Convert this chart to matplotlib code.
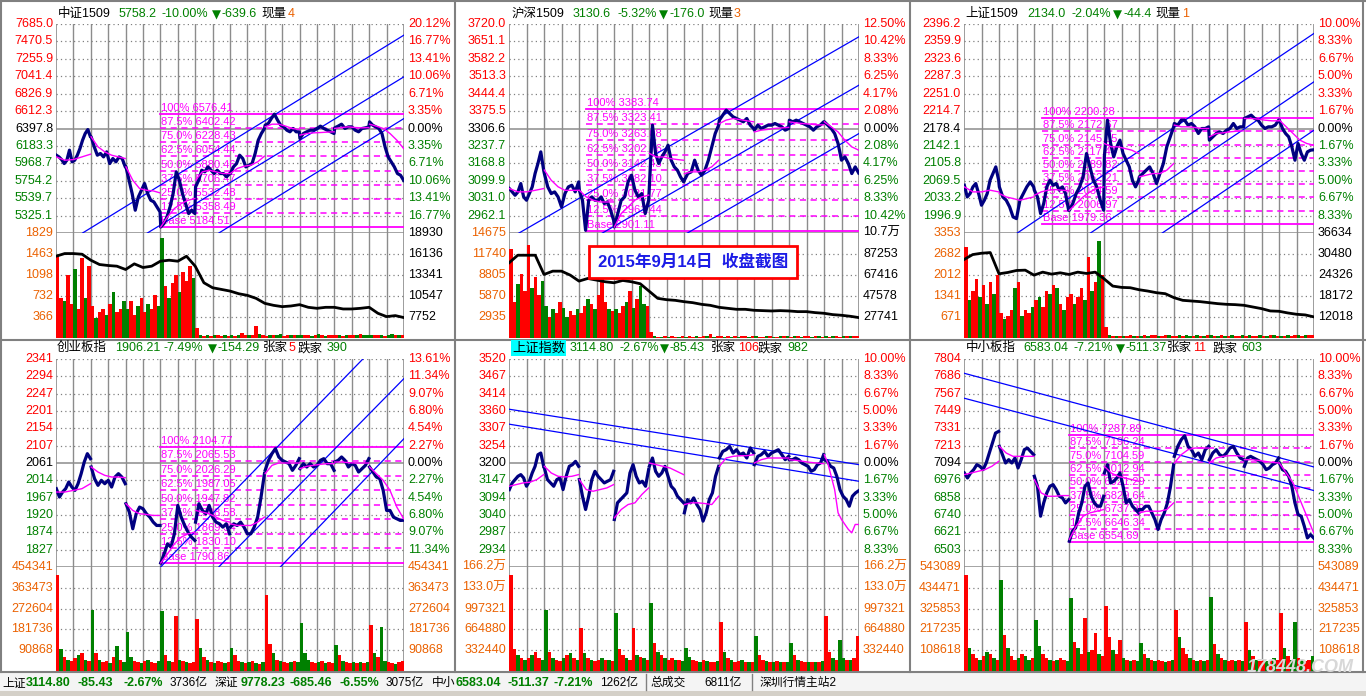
import numpy as np
import matplotlib
matplotlib.use("Agg")
import matplotlib.pyplot as plt
from matplotlib.patches import Rectangle
from matplotlib.lines import Line2D

plt.rcParams['font.family'] = ['Liberation Sans', 'Noto Sans CJK SC', 'DejaVu Sans']

W, H = 1366, 696
RED, GREEN, ORANGE = '#FF0000', '#008000', '#EB6100'
NAVY, MAG, BLUE = '#000080', '#FF00FF', '#0000FF'
GRID = '#8C8C8C'

# ---------------------------------------------------------------- data
# ---- 中证1509 (top-left)
TL_PREV, TL_STEP = 6397.8, 214.53
TL_LEFT = ["7685.0", "7470.5", "7255.9", "7041.4", "6826.9", "6612.3", "6397.8",
           "6183.3", "5968.7", "5754.2", "5539.7", "5325.1"]
TL_PCT = ["20.12%", "16.77%", "13.41%", "10.06%", "6.71%", "3.35%", "0.00%",
          "3.35%", "6.71%", "10.06%", "13.41%", "16.77%"]
TL_VOL_TICKS = [1829, 1463, 1098, 732, 366]
TL_VOL_LABELS = ["1829", "1463", "1098", "732", "366"]
TL_OI_TICKS = [18930, 16136, 13341, 10547, 7752]
TL_OI_LABELS = ["18930", "16136", "13341", "10547", "7752"]
TL_PRICE = [
    [6069, 6048, 6015, 5966, 6007, 6131, 5987, 6007, 6069, 6151, 6254, 6336, 6385, 6295],
    [6295, 6172, 6069, 6090, 6048, 6110, 5966, 6028, 5987, 6048, 6028, 5925],
    [5925, 5761, 5596, 5391, 5555, 5637, 5720, 5596, 5514, 5494, 5432, 5370],
    [5185, 5226, 5309, 5432, 5596, 5863, 5761, 5596, 5473, 5350, 5391, 5350],
    [5678, 5761, 5884, 5864, 5925, 5884, 5843, 5884, 5843, 5843, 5802, 5843],
    [5843, 5925, 5966, 6069, 6028, 5925, 5946, 5966, 6090, 6254, 6336, 6398],
    [6439, 6459, 6521, 6575, 6501, 6439, 6418, 6377, 6357, 6398, 6357, 6357],
    [6274, 6336, 6357, 6377, 6377, 6398, 6427, 6398, 6377, 6357, 6336],
    [6406, 6427, 6451, 6398, 6418, 6418, 6377, 6357, 6398, 6406, 6418],
    [6480, 6439, 6418, 6398, 6336, 6172, 6048, 5987, 5925, 5843, 5822, 5758.2],
]
TL_AVG = [
    [6048, 6007, 6015, 6048, 6081],
    [6295, 6172, 6110, 6069, 6048, 6028],
    [5925, 5761, 5658, 5637, 5629, 5605],
    [5185, 5309, 5412, 5473, 5514, 5535],
    [5761, 5864, 5884, 5864, 5843, 5843],
    [5843, 5905, 5933, 5946, 5987, 6057],
    [6418, 6451, 6451, 6427, 6398, 6385],
    [6316, 6336, 6344, 6348, 6353, 6357],
    [6398, 6410, 6418, 6410, 6406, 6410],
    [6451, 6427, 6398, 6336, 6254, 6151],
]
TL_OI = [15839, 16193, 16193, 16104, 15310, 14736, 14603, 14515, 14074, 14824, 14338,
         14515, 15177, 15310, 15177, 15839, 14515, 12308, 11645, 11425, 11204, 10851,
         10630, 10233, 9570, 9305, 9129, 9217, 9394, 9041, 8908, 9041, 9041, 8820,
         8820, 8908, 9041, 8246, 7804, 7937, 7672]
TL_VOL = [
    [1450, 700, 650, 1100, 600, 1200, 500, 1400, 700, 1250],
    [550, 350, 450, 500, 400, 600, 800, 450, 500, 650],
    [500, 650, 400, 550, 700, 450, 600, 500, 750, 550],
    [1750, 900, 700, 950, 1100, 800, 1150, 1000, 1250, 1050],
    [180, 60, 40, 50, 30, 45, 60, 35, 50, 40],
    [50, 40, 60, 80, 45, 50, 60, 210, 70, 50],
    [40, 60, 45, 50, 70, 40, 55, 60, 45, 50],
    [50, 45, 60, 40, 55, 70, 50, 40, 45, 60],
    [45, 50, 40, 55, 60, 45, 50, 70, 45, 50],
    [60, 45, 50, 55, 40, 60, 70, 50, 55, 60],
]
TL_VOL_COL = ["rrgrrgrrgr", "rgrrgrgrrg", "grrgrrgrrg", "grgrrgrrrg", "rgrgrgrrgr",
              "grgrrgrrgr", "rgrggrrgrg", "grrgrgrgrr", "rgrgrrgrgg", "grrgrggrgr"]
TL_FIB_START = 3.0
TL_FIB = [6576.41, 6402.42, 6228.43, 6054.44, 5880.46, 5706.47, 5532.48, 5358.49, 5184.51]
TL_CH_X0 = [0.764, 2.626, 4.68]
TL_CH_Y0 = [5110.6, 5110.6, 5110.6]
TL_CH_X1 = [10, 10, 10]
TL_CH_Y1 = [7548.6, 7034.9, 6521.1]

# ---- 沪深1509 (top-middle)
TM_PREV, TM_STEP = 3306.6, 68.9
TM_LEFT = ["3720.0", "3651.1", "3582.2", "3513.3", "3444.4", "3375.5", "3306.6",
           "3237.7", "3168.8", "3099.9", "3031.0", "2962.1"]
TM_PCT = ["12.50%", "10.42%", "8.33%", "6.25%", "4.17%", "2.08%", "0.00%",
          "2.08%", "4.17%", "6.25%", "8.33%", "10.42%"]
TM_VOL_TICKS = [14675, 11740, 8805, 5870, 2935]
TM_VOL_LABELS = ["14675", "11740", "8805", "5870", "2935"]
TM_OI_TICKS = [107090, 87253, 67416, 47578, 27741]
TM_OI_LABELS = ["10.7万", "87253", "67416", "47578", "27741"]
TM_PRICE = [
    [3069.0, 3055.8, 3042.6, 3055.8, 3088.8, 3036.0, 3022.8, 3049.2, 3075.6, 3128.4, 3168.0, 3214.2, 3141.6],
    [3128.4, 3075.6, 3049.2, 3055.8, 3036.0, 2996.4, 3049.2, 3075.6, 3082.2, 3055.8, 3095.4],
    [3062.4, 3022.8, 2904.0, 3022.8, 3036.0, 3022.8, 3022.8, 3036.0, 3009.6, 3016.2, 2983.2, 2943.6],
    [2917.2, 2970.0, 3022.8, 3036.0, 3095.4, 3121.8, 3062.4, 3036.0, 3049.2, 2970.0, 3022.8],
    [3075.6, 3319.8, 3207.6, 3168.0, 3194.4, 3214.2, 3240.6, 3181.2, 3154.8, 3141.6, 3115.2, 3095.4],
    [3102.0, 3128.4, 3135.0, 3181.2, 3141.6, 3121.8, 3141.6, 3181.2, 3234.0, 3286.8, 3319.8],
    [3339.6, 3359.4, 3379.2, 3366.0, 3352.8, 3346.2, 3339.6, 3333.0, 3346.2, 3319.8, 3306.6],
    [3300.0, 3319.8, 3306.6, 3313.2, 3319.8, 3319.8, 3326.4, 3319.8, 3313.2, 3300.0, 3306.6],
    [3339.6, 3333.0, 3339.6, 3333.0, 3326.4, 3319.8, 3313.2, 3300.0, 3313.2, 3319.8, 3333.0],
    [3333.0, 3319.8, 3306.6, 3286.8, 3247.2, 3181.2, 3194.4, 3168.0, 3128.4, 3154.8, 3130.6],
]
TM_AVG = [
    [3069, 3056, 3056, 3062, 3069],
    [3142, 3102, 3076, 3062, 3062, 3062],
    [3062, 3036, 3023, 3016, 3016, 3016],
    [2917, 2970, 2996, 3023, 3036, 3043],
    [3208, 3194, 3194, 3188, 3184, 3181],
    [3128, 3135, 3135, 3142, 3155, 3181],
    [3326, 3340, 3346, 3342, 3337, 3333],
    [3293, 3300, 3303, 3307, 3309, 3311],
    [3333, 3329, 3326, 3324, 3321, 3321],
    [3333, 3313, 3293, 3260, 3234, 3221],
]
TM_OI = [78884, 86092, 86092, 86092, 67915, 71049, 71049, 67287, 61647, 64154, 62587,
         61020, 60080, 62274, 61020, 59140, 52245, 45350, 44097, 43470, 42216, 41276,
         39709, 38769, 36888, 35948, 35008, 35008, 34068, 33754, 33441, 33754, 33441,
         32814, 32814, 31874, 31247, 29994, 29367, 28427, 27173]
TM_VOL = [
    [12500, 5000, 7500, 9000, 6500, 13000, 7000, 8500, 6000, 8000],
    [4500, 3000, 4000, 3500, 5000, 4200, 3000, 3800, 3200, 4000],
    [3500, 4500, 5500, 4800, 4000, 6000, 9000, 5000, 4000, 3800],
    [4000, 3500, 4500, 5000, 6500, 4200, 5500, 7200, 4800, 4500],
    [900, 250, 200, 180, 220, 200, 250, 180, 200, 220],
    [200, 250, 180, 300, 200, 220, 250, 600, 200, 250],
    [220, 180, 250, 200, 300, 180, 220, 250, 200, 230],
    [250, 200, 180, 220, 260, 200, 190, 230, 210, 240],
    [200, 230, 260, 180, 220, 250, 200, 210, 240, 190],
    [230, 200, 250, 220, 190, 260, 210, 240, 280, 300],
]
TM_VOL_COL = ["rrgrrrgrrg", "grgrrggrrg", "rrgrgrrrgr", "grrgrgrggr", "rgrgrgrrgr",
              "grrgrrgrgr", "rgrgrgrrgr", "grrgrgrgrg", "rgrgrrgrgr", "grgrrgrgrr"]
TM_FIB_START = 2.19
TM_FIB = [3383.74, 3323.41, 3263.08, 3202.76, 3142.43, 3082.10, 3021.77, 2961.44, 2901.11]
TM_CH_X0 = [0.257, 2.64, 5.07]
TM_CH_Y0 = [2890.8, 2890.8, 2890.8]
TM_CH_X1 = [10, 10, 10]
TM_CH_Y1 = [3669.6, 3478.2, 3286.8]

# ---- 上证1509 (top-right)
TR_PREV, TR_STEP = 2178.4, 36.3
TR_LEFT = ["2396.2", "2359.9", "2323.6", "2287.3", "2251.0", "2214.7", "2178.4",
           "2142.1", "2105.8", "2069.5", "2033.2", "1996.9"]
TR_PCT = ["10.00%", "8.33%", "6.67%", "5.00%", "3.33%", "1.67%", "0.00%",
          "1.67%", "3.33%", "5.00%", "6.67%", "8.33%"]
TR_VOL_TICKS = [3353, 2682, 2012, 1341, 671]
TR_VOL_LABELS = ["3353", "2682", "2012", "1341", "671"]
TR_OI_TICKS = [36634, 30480, 24326, 18172, 12018]
TR_OI_LABELS = ["36634", "30480", "24326", "18172", "12018"]
TR_PRICE = [
    [2060.2, 2035.8, 2042.8, 2056.7, 2063.7, 2042.8, 2018.5, 2028.9, 2042.8, 2070.6, 2084.5, 2098.4, 2070.6],
    [2056.7, 2035.8, 2028.9, 2015.0, 1994.1, 1990.6, 2028.9, 2042.8, 2056.7, 2067.1, 2056.7],
    [2049.8, 2035.8, 2001.1, 2021.9, 2056.7, 2070.6, 2060.2, 2063.7, 2049.8, 2056.7, 2042.8, 2008.0],
    [2008.0, 2021.9, 2042.8, 2056.7, 2077.6, 2126.2, 2098.4, 2070.6, 2056.7, 2028.9, 2008.0],
    [2119.3, 2195.8, 2147.1, 2119.3, 2140.2, 2154.1, 2126.2, 2112.3, 2098.4, 2070.6, 2056.7, 2070.6],
    [2077.6, 2084.5, 2091.5, 2098.4, 2084.5, 2063.7, 2084.5, 2105.4, 2140.2, 2161.0, 2181.9],
    [2188.8, 2185.4, 2195.8, 2195.8, 2185.4, 2188.8, 2181.9, 2168.0, 2178.4, 2178.4, 2181.9],
    [2154.1, 2161.0, 2168.0, 2171.4, 2168.0, 2174.9, 2178.4, 2188.8, 2178.4, 2181.9, 2181.9],
    [2199.3, 2202.7, 2206.2, 2199.3, 2195.8, 2185.4, 2178.4, 2181.9, 2181.9, 2185.4, 2195.8],
    [2195.8, 2178.4, 2168.0, 2161.0, 2140.2, 2112.3, 2147.1, 2126.2, 2112.3, 2129.7, 2133.2, 2134.0],
]
TR_AVG = [
    [2056.7, 2046.3, 2046.3, 2049.8, 2046.3],
    [2042.8, 2035.8, 2032.4, 2028.9, 2032.4, 2035.8],
    [2039.3, 2046.3, 2049.8, 2051.2, 2049.8, 2048.4],
    [2008.0, 2021.9, 2035.8, 2046.3, 2053.2, 2056.7],
    [2147.1, 2140.2, 2140.2, 2136.7, 2133.2, 2126.2],
    [2077.6, 2081.1, 2084.5, 2084.5, 2091.5, 2105.4],
    [2185.4, 2181.9, 2181.9, 2180.5, 2178.4, 2178.4],
    [2161.0, 2168.0, 2169.4, 2171.4, 2172.8, 2173.5],
    [2199.3, 2199.3, 2197.9, 2195.8, 2194.4, 2194.4],
    [2195.8, 2181.9, 2168.0, 2154.1, 2147.1, 2143.6],
]
TR_OI = [28858, 30316, 30705, 30899, 24678, 25067, 25650, 25748, 24290, 25164, 24581,
         24970, 24484, 25164, 24776, 25164, 23220, 21082, 20693, 20596, 20013, 19624,
         19138, 18846, 17680, 16902, 16708, 16514, 16222, 15930, 15736, 15639, 15444,
         14958, 14472, 13792, 13695, 13208, 12820, 12626, 12042]
TR_VOL = [
    [2900, 1200, 1500, 1900, 1300, 1700, 1100, 1800, 1400, 2000],
    [800, 600, 700, 900, 1600, 1800, 700, 900, 800, 1000],
    [1200, 1300, 1000, 1500, 1400, 1700, 1600, 1100, 900, 1300],
    [1400, 1100, 1300, 1600, 1200, 2600, 1500, 1800, 3100, 2000],
    [350, 80, 60, 50, 70, 60, 50, 80, 60, 50],
    [70, 90, 60, 80, 100, 70, 60, 90, 80, 70],
    [60, 80, 70, 90, 60, 75, 80, 60, 70, 90],
    [80, 60, 70, 90, 75, 60, 85, 70, 60, 80],
    [70, 85, 60, 75, 90, 70, 60, 80, 85, 70],
    [75, 60, 80, 70, 90, 85, 70, 95, 80, 100],
]
TR_VOL_COL = ["rgrrgrgrgr", "rgrrgrgrrg", "rgrrgrgrgr", "rgrrgrgrgr", "rgrgrgrrgr",
              "grgrrgrrgr", "rgrggrgrgr", "grgrgrgrrg", "rgrrgrgrgr", "grgrrgrgrr"]
TR_FIB_START = 2.23
TR_FIB = [2200.28, 2172.67, 2145.05, 2117.44, 2089.82, 2062.21, 2034.59, 2006.97, 1979.36]
TR_CH_X0 = [1.50, 3.59, 5.64]
TR_CH_Y0 = [1959.4, 1959.4, 1959.4]
TR_CH_X1 = [10, 10, 10]
TR_CH_Y1 = [2376.6, 2275.8, 2174.9]

# ---- 创业板指 (bottom-left)
BL_PREV, BL_STEP = 2060.5, 46.74
BL_LEFT = ["2341", "2294", "2247", "2201", "2154", "2107", "2061",
           "2014", "1967", "1920", "1874", "1827"]
BL_PCT = ["13.61%", "11.34%", "9.07%", "6.80%", "4.54%", "2.27%", "0.00%",
          "2.27%", "4.54%", "6.80%", "9.07%", "11.34%"]
BL_VOL_TICKS = [454341, 363473, 272604, 181736, 90868]
BL_VOL_LABELS = ["454341", "363473", "272604", "181736", "90868"]
BL_PRICE = [
    [1991.2, 1968.7, 1982.2, 1991.2, 2009.2, 1995.7, 1986.7, 2004.7, 2031.7, 2063.2, 2085.7, 2072.2],
    [2049.7, 2018.2, 2000.2, 2013.7, 2004.7, 2013.7, 1995.7, 2022.7, 2031.7, 2022.7, 2004.7],
    [1950.7, 1928.1, 1883.1, 1923.6, 1941.6, 1937.1, 1923.6, 1914.6, 1901.1, 1892.1, 1892.1],
    [1790.9, 1815.6, 1842.6, 1833.6, 1869.6, 1946.1, 1914.6, 1892.1, 1874.1, 1860.6, 1851.6],
    [1901.1, 1950.7, 1932.6, 1923.6, 1946.1, 1914.6, 1901.1, 1896.6, 1887.6, 1896.6, 1869.6],
    [1887.6, 1896.6, 1892.1, 1901.1, 1887.6, 1869.6, 1869.6, 1887.6, 1914.6, 1968.7, 2031.7],
    [2040.7, 2067.7, 2085.7, 2099.2, 2076.7, 2067.7, 2063.2, 2058.7, 2040.7, 2054.2, 2072.2],
    [2045.2, 2058.7, 2049.7, 2058.7, 2049.7, 2054.2, 2067.7, 2072.2, 2058.7, 2058.7, 2040.7],
    [2063.2, 2067.7, 2076.7, 2067.7, 2049.7, 2058.7, 2054.2, 2036.2, 2045.2, 2054.2, 2072.2],
    [2049.7, 2036.2, 2022.7, 2018.2, 1986.7, 1932.6, 1932.6, 1914.6, 1910.1, 1905.6, 1906.21],
]
BL_AVG = [
    [1982.2, 1982.2, 1986.7, 1991.2, 2004.7],
    [2049.7, 2036.2, 2027.2, 2022.7, 2022.7, 2020.9],
    [1950.7, 1932.6, 1923.6, 1921.8, 1919.1, 1919.1],
    [1790.9, 1815.6, 1842.6, 1860.6, 1869.6, 1874.1],
    [1932.6, 1928.1, 1923.6, 1914.6, 1905.6, 1901.1],
    [1896.6, 1892.1, 1892.1, 1892.1, 1901.1, 1914.6],
    [2031.7, 2054.2, 2060.5, 2060.5, 2060.5, 2060.5],
    [2045.2, 2051.5, 2054.2, 2056.9, 2058.7, 2058.7],
    [2063.2, 2063.2, 2061.4, 2060.5, 2060.5, 2060.5],
    [2049.7, 2031.7, 2013.7, 1986.7, 1941.6, 1910.1],
]
BL_VOL = [
    [420000, 95000, 60000, 50000, 45000, 55000, 70000, 80000, 50000, 45000],
    [267000, 80000, 50000, 40000, 45000, 35000, 60000, 110000, 50000, 40000],
    [172000, 60000, 45000, 40000, 35000, 45000, 50000, 40000, 35000, 45000],
    [260000, 70000, 45000, 40000, 241000, 50000, 45000, 40000, 35000, 40000],
    [225000, 100000, 60000, 50000, 40000, 35000, 45000, 40000, 35000, 40000],
    [100000, 70000, 45000, 40000, 35000, 40000, 45000, 35000, 30000, 40000],
    [333000, 120000, 80000, 50000, 45000, 40000, 35000, 40000, 45000, 40000],
    [209000, 80000, 50000, 40000, 35000, 40000, 45000, 35000, 40000, 35000],
    [114000, 70000, 45000, 40000, 35000, 40000, 35000, 40000, 35000, 40000],
    [201000, 80000, 60000, 194000, 45000, 40000, 35000, 30000, 40000, 45000],
]
BL_VOL_COL = ["rgrgrrgrgr", "grgrrgrgrg", "ggrrgrgrrg", "grgrrgrgrr", "rgrgrgrrgr",
              "grrgrgrgrg", "rrgrgrrgrg", "gggrrgrgrr", "grgrrgrgrg", "rgrggrrgrr"]
BL_FIB_START = 2.99
BL_FIB = [2104.77, 2065.53, 2026.29, 1987.05, 1947.82, 1908.58, 1869.34, 1830.10, 1790.86]
BL_CH_X0 = [3.01, 4.68, 6.45]
BL_CH_Y0 = [1780.5, 1780.5, 1780.5]
BL_CH_X1 = [10, 10, 10]
BL_CH_Y1 = [2455.0, 2288.3, 2126.2]

# ---- 上证指数 (bottom-middle)
BM_PREV, BM_STEP = 3200.23, 53.34
BM_LEFT = ["3520", "3467", "3414", "3360", "3307", "3254", "3200",
           "3147", "3094", "3040", "2987", "2934"]
BM_PCT = ["10.00%", "8.33%", "6.67%", "5.00%", "3.33%", "1.67%", "0.00%",
          "1.67%", "3.33%", "5.00%", "6.67%", "8.33%"]
BM_VOL_TICKS = [1662200, 1330000, 997321, 664880, 332440]
BM_VOL_LABELS = ["166.2万", "133.0万", "997321", "664880", "332440"]
BM_PRICE = [
    [3118.4, 3138.9, 3149.1, 3159.3, 3164.5, 3154.2, 3128.7, 3144.0, 3169.6, 3190.0, 3225.8, 3230.9, 3190.0],
    [3184.9, 3149.1, 3138.9, 3128.7, 3149.1, 3154.2, 3118.4, 3159.3, 3190.0, 3195.1, 3205.3, 3190.0],
    [3149.1, 3098.0, 3057.1, 3098.0, 3149.1, 3174.7, 3159.3, 3149.1, 3138.9, 3144.0, 3149.1, 3174.7],
    [3026.4, 3077.6, 3087.8, 3098.0, 3108.2, 3169.6, 3195.1, 3159.3, 3138.9, 3144.0, 3128.7, 3179.8],
    [3190.0, 3215.6, 3174.7, 3159.3, 3169.6, 3190.0, 3159.3, 3128.7, 3118.4, 3098.0, 3087.8, 3077.6],
    [3046.9, 3087.8, 3077.6, 3092.9, 3072.4, 3057.1, 3021.3, 3046.9, 3087.8, 3108.2, 3159.3, 3190.0],
    [3215.6, 3236.0, 3241.1, 3251.3, 3230.9, 3241.1, 3225.8, 3230.9, 3215.6, 3246.2, 3230.9],
    [3195.1, 3220.7, 3225.8, 3236.0, 3220.7, 3230.9, 3236.0, 3241.1, 3225.8, 3210.4, 3220.7],
    [3210.4, 3210.4, 3215.6, 3210.4, 3200.2, 3195.1, 3190.0, 3174.7, 3179.8, 3195.1, 3200.2, 3225.8],
    [3210.4, 3205.3, 3190.0, 3184.9, 3159.3, 3118.4, 3098.0, 3087.8, 3067.3, 3098.0, 3108.2, 3114.8],
]
BM_AVG = [
    [3128.7, 3133.8, 3138.9, 3141.0, 3149.1, 3164.5],
    [3190.0, 3169.6, 3159.3, 3157.3, 3159.3, 3164.5],
    [3149.1, 3118.4, 3113.3, 3118.4, 3123.5, 3133.8],
    [3031.5, 3057.1, 3072.4, 3077.6, 3103.1, 3123.5],
    [3200.2, 3195.1, 3190.0, 3184.9, 3174.7, 3164.5],
    [3072.4, 3077.6, 3077.6, 3075.5, 3072.4, 3098.0],
    [3190.0, 3215.6, 3220.7, 3222.7, 3222.7, 3225.8],
    [3200.2, 3210.4, 3215.6, 3215.6, 3215.6, 3215.6],
    [3210.4, 3208.4, 3205.3, 3202.3, 3200.2, 3198.2],
    [3225.8, 3200.2, 3159.3, 3118.4, 3046.9, 3026.4, 3011.1, 2995.8, 2985.5, 3011.1, 3011.1],
]
BM_VOL = [
    [1540000, 350000, 250000, 200000, 180000, 200000, 250000, 300000, 200000, 180000],
    [978000, 300000, 200000, 180000, 160000, 200000, 250000, 280000, 200000, 180000],
    [684000, 280000, 200000, 180000, 160000, 170000, 200000, 180000, 170000, 160000],
    [924000, 350000, 250000, 200000, 180000, 680000, 250000, 220000, 200000, 180000],
    [1085000, 450000, 300000, 250000, 200000, 180000, 200000, 180000, 170000, 160000],
    [363000, 220000, 180000, 160000, 150000, 170000, 160000, 150000, 140000, 160000],
    [791000, 300000, 200000, 180000, 150000, 160000, 170000, 150000, 140000, 150000],
    [561000, 250000, 180000, 160000, 150000, 140000, 160000, 150000, 140000, 150000],
    [444000, 250000, 180000, 160000, 150000, 140000, 150000, 140000, 150000, 160000],
    [882000, 300000, 200000, 180000, 497000, 200000, 180000, 170000, 200000, 561000],
]
BM_VOL_COL = ["rrgrgrgrrg", "grgrrgrgrg", "rgrgrrgrgr", "grrgrrgrgr", "grgrgrrgrg",
              "ggrrgrgrrg", "rgrgrrgrgr", "grrgrgrgrg", "grgrrgrgrg", "rrgrggrgrr"]
BM_CH_X0 = [0, 0]
BM_CH_Y0 = [3365.8, 3319.8]
BM_CH_X1 = [10, 10]
BM_CH_Y1 = [3195.1, 3144.0]

# ---- 中小板指 (bottom-right)
BR_PREV, BR_STEP = 7094.41, 118.24
BR_LEFT = ["7804", "7686", "7567", "7449", "7331", "7213", "7094",
           "6976", "6858", "6740", "6621", "6503"]
BR_PCT = ["10.00%", "8.33%", "6.67%", "5.00%", "3.33%", "1.67%", "0.00%",
          "1.67%", "3.33%", "5.00%", "6.67%", "8.33%"]
BR_VOL_TICKS = [543089, 434471, 325853, 217235, 108618]
BR_VOL_LABELS = ["543089", "434471", "325853", "217235", "108618"]
BR_PRICE = [
    [7026.4, 6992.3, 7026.4, 7049.1, 7083.1, 7071.7, 7049.1, 7094.4, 7162.5, 7230.5, 7298.5, 7309.9],
    [7207.8, 7151.1, 7094.4, 7117.1, 7094.4, 7128.4, 7060.4, 7117.1, 7185.1, 7196.5, 7173.8, 7151.1],
    [7003.7, 6935.6, 6731.5, 6822.2, 6890.3, 6935.6, 6947.0, 6912.9, 6867.6, 6856.3, 6822.2, 6844.9],
    [6561.4, 6629.5, 6652.2, 6754.2, 6822.2, 6935.6, 6958.3, 6867.6, 6822.2, 6799.6, 6799.6, 6867.6],
    [7026.4, 7083.1, 6958.3, 6969.7, 6992.3, 7026.4, 6935.6, 6822.2, 6844.9, 6799.6, 6776.9, 6754.2],
    [6776.9, 6776.9, 6799.6, 6799.6, 6754.2, 6708.8, 6640.8, 6708.8, 6754.2, 6822.2, 6935.6, 7083.1],
    [7139.8, 7207.8, 7253.2, 7280.4, 7207.8, 7185.1, 7139.8, 7162.5, 7117.1, 7185.1, 7207.8],
    [7117.1, 7162.5, 7185.1, 7151.1, 7139.8, 7162.5, 7196.5, 7207.8, 7162.5, 7128.4, 7117.1],
    [7071.7, 7128.4, 7139.8, 7128.4, 7117.1, 7105.7, 7083.1, 7049.1, 7060.4, 7083.1, 7094.4, 7128.4],
    [7094.4, 7049.1, 7037.7, 7003.7, 6935.6, 6822.2, 6742.9, 6731.5, 6663.5, 6583.3, 6606.0, 6583.04],
]
BR_AVG = [
    [7015.0, 7026.4, 7037.7, 7049.1, 7071.7, 7105.7],
    [7207.8, 7162.5, 7139.8, 7139.8, 7139.8, 7139.8],
    [6981.0, 6890.3, 6867.6, 6867.6, 6872.1, 6872.1],
    [6572.8, 6663.5, 6731.5, 6754.2, 6765.5, 6776.9],
    [7071.7, 7026.4, 7003.7, 6992.3, 6981.0, 6969.7],
    [6754.2, 6765.5, 6765.5, 6765.5, 6776.9, 6822.2],
    [7094.4, 7151.1, 7185.1, 7196.5, 7196.5, 7196.5],
    [7094.4, 7128.4, 7139.8, 7144.3, 7144.3, 7139.8],
    [7117.1, 7117.1, 7112.6, 7105.7, 7098.9, 7094.4],
    [7094.4, 7026.4, 6958.3, 6844.9, 6731.5, 6618.1],
]
BR_VOL = [
    [503000, 120000, 90000, 70000, 60000, 80000, 100000, 90000, 70000, 60000],
    [477000, 190000, 120000, 80000, 60000, 70000, 90000, 80000, 60000, 70000],
    [267000, 130000, 90000, 70000, 60000, 50000, 60000, 70000, 60000, 50000],
    [381000, 150000, 120000, 90000, 276000, 100000, 110000, 200000, 90000, 80000],
    [337000, 180000, 110000, 90000, 162000, 70000, 60000, 50000, 60000, 50000],
    [145000, 90000, 70000, 60000, 50000, 60000, 50000, 45000, 50000, 60000],
    [320000, 180000, 120000, 90000, 70000, 60000, 50000, 60000, 50000, 60000],
    [389000, 140000, 90000, 70000, 60000, 50000, 60000, 50000, 60000, 50000],
    [258000, 110000, 80000, 60000, 50000, 60000, 50000, 60000, 70000, 60000],
    [302000, 120000, 80000, 60000, 258000, 70000, 60000, 50000, 60000, 80000],
]
BR_VOL_COL = ["rgrrgrgrgr", "grgrrgrggr", "ggrrgrgrrg", "grgrrgrrgr", "rrgrrgrgrg",
              "grgrgrrgrg", "rgrrgrgrgr", "grgrgrrgrg", "rgrgrrgrgr", "rgrggrgrrg"]
BR_FIB_START = 3.0
BR_FIB = [7287.89, 7196.24, 7104.59, 7012.94, 6921.29, 6829.64, 6737.99, 6646.34, 6554.69]
BR_CH_X0 = [0, 0]
BR_CH_Y0 = [7706.8, 7536.7]
BR_CH_X1 = [10, 10]
BR_CH_Y1 = [7067.2, 6906.2]

FIB_NAMES = ["100%", "87.5%", "75.0%", "62.5%", "50.0%", "37.5%", "25.0%", "12.5%", "Base"]

# ---- titles: (text, colour, x pixel)
TL_TITLE = [("中证1509", 'k', 58), ("5758.2", GREEN, 119), ("-10.00%", GREEN, 162),
            ("▼", GREEN, 212), ("-639.6", GREEN, 222), ("现量", 'k', 261), ("4", ORANGE, 288)]
TM_TITLE = [("沪深1509", 'k', 512), ("3130.6", GREEN, 573), ("-5.32%", GREEN, 617),
            ("▼", GREEN, 659), ("-176.0", GREEN, 669), ("现量", 'k', 708), ("3", ORANGE, 734)]
TR_TITLE = [("上证1509", 'k', 965), ("2134.0", GREEN, 1027), ("-2.04%", GREEN, 1071),
            ("▼", GREEN, 1113), ("-44.4", GREEN, 1123), ("现量", 'k', 1155), ("1", ORANGE, 1182)]
BL_TITLE = [("创业板指", 'k', 57), ("1906.21", GREEN, 115), ("-7.49%", GREEN, 163),
            ("▼", GREEN, 208), ("-154.29", GREEN, 218), ("张家", 'k', 263), ("5", RED, 289),
            ("跌家", 'k', 298), ("390", GREEN, 327)]
BM_TITLE = [("上证指数", 'k', 512), ("3114.80", GREEN, 570), ("-2.67%", GREEN, 619),
            ("▼", GREEN, 660), ("-85.43", GREEN, 670), ("张家", 'k', 711), ("106", RED, 738),
            ("跌家", 'k', 758), ("982", GREEN, 787)]
BR_TITLE = [("中小板指", 'k', 966), ("6583.04", GREEN, 1023), ("-7.21%", GREEN, 1073),
            ("▼", GREEN, 1116), ("-511.37", GREEN, 1126), ("张家", 'k', 1167), ("11", RED, 1193),
            ("跌家", 'k', 1213), ("603", GREEN, 1241)]

STATUS = [("上证", 'k', 2, False), ("3114.80", GREEN, 26, True), ("-85.43", GREEN, 78, True),
          ("-2.67%", GREEN, 123, True), ("3736亿", 'k', 170, False),
          ("深证", 'k', 215, False), ("9778.23", GREEN, 241, True), ("-685.46", GREEN, 290, True),
          ("-6.55%", GREEN, 339, True), ("3075亿", 'k', 386, False),
          ("中小", 'k', 432, False), ("6583.04", GREEN, 456, True), ("-511.37", GREEN, 507, True),
          ("-7.21%", GREEN, 554, True), ("1262亿", 'k', 600, False),
          ("总成交", 'k', 650, False), ("6811亿", 'k', 704, False), ("深圳行情主站2", 'k', 760, False)]

# ---------------------------------------------------------------- drawing
fig = plt.figure(figsize=(W / 100, H / 100), dpi=100)
fig.patch.set_facecolor('white')


def ax_px(x0, y0, x1, y1):
    a = fig.add_axes([x0 / W, 1 - y1 / H, (x1 - x0) / W, (y1 - y0) / H])
    a.set_xticks([])
    a.set_yticks([])
    for s in a.spines.values():
        s.set_visible(False)
    a.patch.set_alpha(0)
    a.set_xlim(0, 10)
    return a


def ftext(x, y, s, **kw):
    fig.text(x / W, 1 - y / H, s, **kw)


def label(ax, val, s, side, color):
    if side == 'left':
        ax.annotate(s, xy=(0, val), xycoords=('axes fraction', 'data'), xytext=(-3, 0),
                    textcoords='offset pixels', ha='right', va='center', color=color,
                    fontsize=9, annotation_clip=False)
    else:
        ax.annotate(s, xy=(1, val), xycoords=('axes fraction', 'data'), xytext=(4, 0),
                    textcoords='offset pixels', ha='left', va='center', color=color,
                    fontsize=9, annotation_clip=False)


def panel(x0, x1, ytop, ymid, ybot, prev, step, left, pct, vt, vl, price, avg, vol, vcol,
          continuous, oi=None, oit=None, oil=None, fib=None, fib_start=None,
          chx0=None, chy0=None, chx1=None, chy1=None):
    axp = ax_px(x0, ytop, x1, ymid)
    axv = ax_px(x0, ymid, x1, ybot)
    ticks = [prev + step * k for k in range(6, -7, -1)]
    axp.set_ylim(ticks[-1], ticks[0])
    axv.set_ylim(0, vt[0])
    for k in range(1, 20):
        for a in (axp, axv):
            a.axvline(k * 0.5, color=GRID, lw=1, zorder=0.5)
    for a in (axp, axv):
        a.axvline(0, color=GRID, lw=1.2, zorder=0.5)
        a.axvline(10, color=GRID, lw=1.2, zorder=0.5)
    for i, t in enumerate(ticks[:-1]):
        if i == 6:
            axp.axhline(t, color=GRID, lw=1.1, zorder=0.6)
        else:
            axp.axhline(t, color='#808080', lw=0.9, ls=(0, (1, 2.5)), zorder=0.6)
    axp.axhline(ticks[-1], color=GRID, lw=1.1, zorder=0.6)
    for v in vt[1:]:
        axv.axhline(v, color='#808080', lw=0.9, ls=(0, (1, 2.5)), zorder=0.6)
    axv.axhline(0, color=GRID, lw=1.2, zorder=0.6)
    for i in range(12):
        c = RED if i < 6 else ('k' if i == 6 else GREEN)
        label(axp, ticks[i], left[i], 'left', c)
        label(axp, ticks[i], pct[i], 'right', c)
    for i in range(5):
        label(axv, vt[i], vl[i], 'left', ORANGE)
    for d in range(10):
        n = len(vol[d])
        xs = d + (np.arange(n) + 0.5) / n
        cols = [RED if ch == 'r' else GREEN for ch in vcol[d]]
        axv.bar(xs, vol[d], width=1.0 / n, color=cols, linewidth=0, zorder=2)
    if oi is not None:
        axo = axv.twinx()
        axo.set_xlim(0, 10)
        axo.set_yticks([])
        for s in axo.spines.values():
            s.set_visible(False)
        ostep = (oit[0] - oit[4]) / 4
        axo.set_ylim(oit[4] - ostep, oit[0])
        axo.plot(np.linspace(0, 10, len(oi)), oi, color='k', lw=2.0, zorder=3)
        for i in range(5):
            label(axo, oit[i], oil[i], 'right', 'k')
    else:
        for i in range(5):
            label(axv, vt[i], vl[i], 'right', ORANGE)
    if fib is not None:
        for i, v in enumerate(fib):
            solid = i in (0, len(fib) - 1)
            axp.plot([fib_start, 10], [v, v], color=MAG, lw=1.3 if solid else 1.1,
                     ls='-' if solid else (0, (4, 3)), zorder=2)
            axp.annotate(f"{FIB_NAMES[i]} {v:.2f}", xy=(fib_start, v), xytext=(1, 1),
                         textcoords='offset pixels', ha='left', va='bottom',
                         color=MAG, fontsize=8, zorder=2)
    for a0, b0, a1, b1 in zip(chx0, chy0, chx1, chy1):
        axp.plot([a0, a1], [b0, b1], color=BLUE, lw=0.9, zorder=3)
    if continuous:
        xs_all, ys_all = [], []
        for d in range(10):
            n = len(price[d])
            xs_all += list(d + np.linspace(0.01, 0.99, n))
            ys_all += price[d]
        axp.plot(xs_all, ys_all, color=NAVY, lw=2.3, zorder=4)
    else:
        for d in range(10):
            n = len(price[d])
            axp.plot(d + np.linspace(0.01, 0.99, n), price[d], color=NAVY, lw=2.3, zorder=4)
    for d in range(10):
        n = len(avg[d])
        axp.plot(d + np.linspace(0.01, 0.99, n), avg[d], color=MAG, lw=1.0, zorder=5)
    axp.set_xlim(0, 10)
    axv.set_xlim(0, 10)
    return axp, axv


def title(items, y):
    for s, c, x in items:
        if s == "上证指数":
            ftext(x, y, s, color=c, fontsize=9.5, ha='left', va='center',
                  bbox=dict(facecolor='#00FFFF', edgecolor='none', pad=1.0))
        elif s == "▼":
            ftext(x, y + 1, s, color=c, fontsize=8.5, ha='left', va='center',
                  family='DejaVu Sans')
        else:
            ftext(x, y, s, color=c, fontsize=9, ha='left', va='center')


panel(56, 404, 24, 233, 338, TL_PREV, TL_STEP, TL_LEFT, TL_PCT, TL_VOL_TICKS, TL_VOL_LABELS,
      TL_PRICE, TL_AVG, TL_VOL, TL_VOL_COL, True, TL_OI, TL_OI_TICKS, TL_OI_LABELS,
      TL_FIB, TL_FIB_START, TL_CH_X0, TL_CH_Y0, TL_CH_X1, TL_CH_Y1)
panel(509, 859, 24, 233, 338, TM_PREV, TM_STEP, TM_LEFT, TM_PCT, TM_VOL_TICKS, TM_VOL_LABELS,
      TM_PRICE, TM_AVG, TM_VOL, TM_VOL_COL, True, TM_OI, TM_OI_TICKS, TM_OI_LABELS,
      TM_FIB, TM_FIB_START, TM_CH_X0, TM_CH_Y0, TM_CH_X1, TM_CH_Y1)
panel(964, 1314, 24, 233, 338, TR_PREV, TR_STEP, TR_LEFT, TR_PCT, TR_VOL_TICKS, TR_VOL_LABELS,
      TR_PRICE, TR_AVG, TR_VOL, TR_VOL_COL, True, TR_OI, TR_OI_TICKS, TR_OI_LABELS,
      TR_FIB, TR_FIB_START, TR_CH_X0, TR_CH_Y0, TR_CH_X1, TR_CH_Y1)
panel(56, 404, 359, 567, 671, BL_PREV, BL_STEP, BL_LEFT, BL_PCT, BL_VOL_TICKS, BL_VOL_LABELS,
      BL_PRICE, BL_AVG, BL_VOL, BL_VOL_COL, False, fib=BL_FIB, fib_start=BL_FIB_START,
      chx0=BL_CH_X0, chy0=BL_CH_Y0, chx1=BL_CH_X1, chy1=BL_CH_Y1)
panel(509, 859, 359, 567, 671, BM_PREV, BM_STEP, BM_LEFT, BM_PCT, BM_VOL_TICKS, BM_VOL_LABELS,
      BM_PRICE, BM_AVG, BM_VOL, BM_VOL_COL, False,
      chx0=BM_CH_X0, chy0=BM_CH_Y0, chx1=BM_CH_X1, chy1=BM_CH_Y1)
panel(964, 1314, 359, 567, 671, BR_PREV, BR_STEP, BR_LEFT, BR_PCT, BR_VOL_TICKS, BR_VOL_LABELS,
      BR_PRICE, BR_AVG, BR_VOL, BR_VOL_COL, False, fib=BR_FIB, fib_start=BR_FIB_START,
      chx0=BR_CH_X0, chy0=BR_CH_Y0, chx1=BR_CH_X1, chy1=BR_CH_Y1)

title(TL_TITLE, 14)
title(TM_TITLE, 14)
title(TR_TITLE, 14)
title(BL_TITLE, 348)
title(BM_TITLE, 348)
title(BR_TITLE, 348)

# annotation box
fig.patches.append(Rectangle((589 / W, 1 - 278 / H), (797 - 589) / W, (278 - 246) / H,
                             transform=fig.transFigure, facecolor='white', edgecolor=RED,
                             lw=2, zorder=10))
ftext(693, 262, "2015年9月14日  收盘截图", color='#1C1CE6', fontsize=12, weight='bold',
      ha='center', va='center', zorder=11)


def hline(y, x0, x1, c='#808080', lw=1.5):
    fig.add_artist(Line2D([x0 / W, x1 / W], [1 - y / H, 1 - y / H], color=c, lw=lw,
                          transform=fig.transFigure))


def vline(x, y0, y1, c='#808080', lw=1.5):
    fig.add_artist(Line2D([x / W, x / W], [1 - y0 / H, 1 - y1 / H], color=c, lw=lw,
                          transform=fig.transFigure))


hline(1, 0, W)
hline(340, 0, W)
hline(672, 0, W)
vline(1, 0, 672)
vline(455, 0, 672)
vline(910, 0, 672)
vline(1363, 0, 672)

# status bar
fig.patches.append(Rectangle((0, 0), 1, (696 - 673) / H, transform=fig.transFigure,
                             facecolor='#F4F4F4', edgecolor='none', zorder=0))
fig.patches.append(Rectangle((0, 0), 1, 5 / H, transform=fig.transFigure,
                             facecolor='#D4D0C8', edgecolor='none', zorder=1))
for s, c, x, b in STATUS:
    has_cjk = any(ord(ch) > 0x2E80 for ch in s)
    ftext(x, 683, s, color=c, fontsize=8.5 if has_cjk else 9, ha='left', va='center',
          weight='bold' if b else 'normal')
vline(646, 674, 690, lw=1)
vline(752, 674, 690, lw=1)
ftext(1300, 668, "178448.COM", color='#D8D8D8', fontsize=13, weight='bold', ha='center',
      va='center', style='italic')

fig.savefig("out.png", dpi=100, facecolor='white')
